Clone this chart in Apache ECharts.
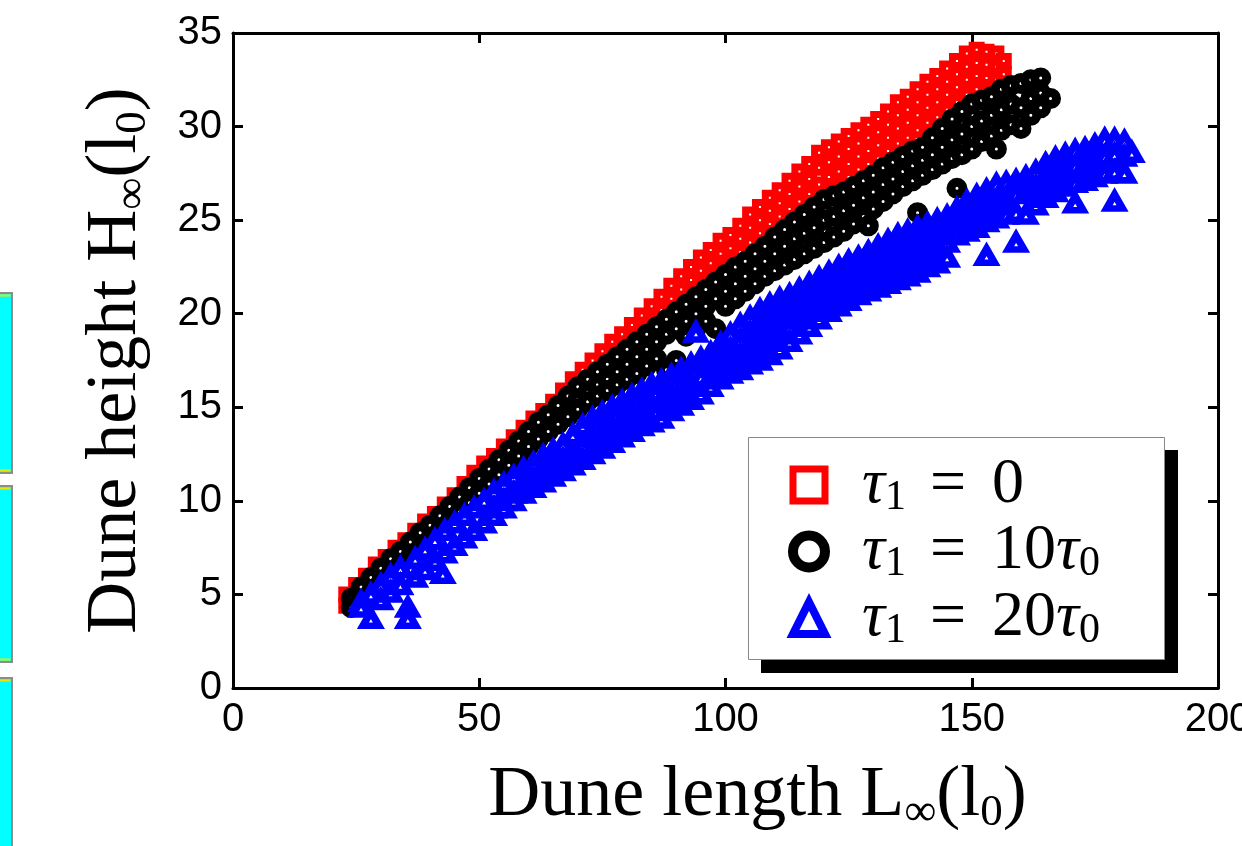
<!DOCTYPE html>
<html>
<head>
<meta charset="utf-8">
<script src="https://cdn.jsdelivr.net/npm/echarts@6/dist/echarts.min.js"></script>
<style>
html,body{margin:0;padding:0;background:#fff;}
#chart{width:1242px;height:846px;}
</style>
</head>
<body>
<div id="chart"></div>
<script>
// ---- data (L, [H values]) ----
const seriesNames = ['τ1 = 0', 'τ1 = 10τ0', 'τ1 = 20τ0'];
const xTicks = [0, 50, 100, 150, 200];
const yTicks = [0, 5, 10, 15, 20, 25, 30, 35];

const redCols = [
[23,[5.0,4.4]],[25,[5.5,4.8]],[27,[6.0,5.3]],[29,[6.6,5.8]],[31,[7.0,6.3]],[33,[7.5,6.8]],
[35,[7.9,7.2]],[37,[8.4,7.6]],[39,[8.9,8.2]],[41,[9.3,8.6]],[43,[9.8,9.1]],[45,[10.3,9.6]],
[47,[10.9,10.2]],[49,[11.5,10.8]],[51,[12.0,11.3]],[53,[12.4,11.8]],[55,[12.9,12.2]],
[57,[13.4,12.7]],[59,[13.9,13.2]],[61,[14.4,13.7]],[63,[14.8,14.1]],[65,[15.3,14.6]],
[67,[15.9,15.2,14.7]],[69,[16.5,15.8,15.1]],[71,[17.0,16.3,15.6]],[73,[17.5,16.8,16.1]],
[75,[18.0,17.3,16.5]],[77,[18.5,17.8,17.0]],[79,[18.9,18.2,17.4]],[81,[19.4,18.7,17.9]],
[83,[19.9,19.2,18.4]],[85,[20.4,19.7,18.9]],[87,[20.9,20.2,19.4]],
[89,[21.5,20.8,20.1,19.5]],[91,[22.0,21.3,20.6,20.0]],[93,[22.5,21.8,21.1,20.5]],
[95,[23.0,22.3,21.6,21.0]],[97,[23.4,22.7,22.0,21.4]],[99,[23.9,23.2,22.5,21.8]],
[101,[24.2,23.5,22.8,22.2]],[103,[24.7,24.0,23.3,22.6]],[105,[25.3,24.6,23.8,23.1]],
[107,[25.7,25.0,24.3,23.6]],[109,[26.2,25.5,24.8,24.0]],[111,[26.6,25.9,25.2,24.4]],
[113,[27.1,26.4,25.6,24.9]],[115,[27.6,26.8,26.0,25.3]],[117,[28.0,27.2,26.4,25.7]],
[119,[28.6,27.8,26.9,26.1]],[121,[28.9,28.1,27.3,26.5]],[123,[29.2,28.4,27.6,26.9]],
[125,[29.5,28.8,28.0,27.3]],[127,[29.8,29.1,28.4,27.7]],[129,[30.1,29.4,28.7,28.0]],
[131,[30.4,29.7,29.0,28.3]],[133,[30.8,30.1,29.4,28.7]],[135,[31.3,30.6,29.9,29.1]],
[137,[31.6,30.9,30.2,29.4]],[139,[32.0,31.3,30.6,29.8]],[141,[32.4,31.7,31.0,30.2]],
[143,[32.7,32.0,31.3,30.5]],[145,[33.1,32.4,31.7,30.9]],[147,[33.5,32.8,32.1,31.3]],
[149,[33.9,33.2,32.5,31.7]],[151,[34.1,33.4,32.7,32.0]],[153,[34.0,33.3,32.6,31.9]],
[155,[33.9,33.2,32.5,31.8]],[156.5,[33.5,32.8,32.1,31.4]]
];

const blackCols = [
[24,[4.8,4.3]],[26,[5.4,4.7]],[28,[5.9,5.1]],[30,[6.4,5.6]],[32,[6.9,6.1]],[34,[7.3,6.6]],
[36,[7.8,7.0]],[38,[8.3,7.4]],[40,[8.7,7.9]],[42,[9.2,8.4]],[44,[9.7,8.9]],[46,[10.2,9.4]],
[48,[10.7,9.9]],[50,[11.2,10.4]],[52,[11.7,10.9]],[54,[12.2,11.4]],[56,[12.7,11.9]],
[58,[13.2,12.4]],[60,[13.7,12.9]],[62,[14.2,13.3]],[64,[14.6,13.7]],[66,[15.1,14.1]],
[68,[15.6,14.5]],[70,[16.1,15.4,14.9]],[72,[16.5,15.8,15.3]],[74,[16.9,16.2,15.6]],
[76,[17.3,16.5,15.9]],[78,[17.7,16.9,16.2]],[80,[18.1,17.3,16.5]],[82,[18.5,17.7,16.8]],
[84,[18.9,18.1,17.2]],[86,[19.3,18.5,17.6]],[88,[19.7,18.9,17.0]],[90,[20.1,19.2,17.5]],
[92,[20.5,19.6,18.8]],[94,[20.9,20.0,19.2]],[96,[21.3,20.4,19.6]],[98,[21.7,20.8,19.2]],
[100,[22.1,21.2,20.4]],[102,[22.5,21.6,20.8]],[104,[22.8,22.0,21.2]],[106,[23.2,22.4,21.6]],
[108,[23.6,22.8,22.0]],[110,[24.1,23.2,22.3]],[112,[24.5,23.6,22.6]],[114,[24.9,24.0,22.9]],
[116,[25.3,24.3,23.2]],[118,[25.7,24.6,23.5]],[120,[26.1,25.0,23.8]],[122,[26.3,25.2,24.1]],
[124,[26.5,25.5,24.4]],[126,[26.8,25.8,24.8]],[128,[27.1,26.2,25.2]],[129,[24.7]],
[130,[27.4,26.5,25.6]],[132,[27.8,26.9,26.0]],[134,[28.1,27.2,26.4]],[136,[28.4,27.6,26.8]],
[138,[28.7,27.9,27.1]],[139,[25.4]],[140,[28.9,28.2,27.4]],[142,[29.4,28.5,27.7]],
[144,[29.9,28.9,28.0]],[146,[30.4,29.3,28.3]],[147,[26.7]],[148,[30.8,29.6,28.5]],
[150,[31.2,30.0,28.8]],[152,[31.4,30.3,29.2]],[154,[31.6,30.6,29.5]],[155,[28.8]],
[156,[32.0,30.9,29.8]],[158,[32.2,31.2,30.1]],[160,[32.3,31.0,29.9]],[162,[32.5,31.5,30.6]],
[164,[32.6,31.8,31.0]],[166,[31.5]]
];

const blueCols = [
[26,[4.6,4.3]],[28,[5.0,3.7]],[30,[5.5,4.7]],[32,[6.0,5.1]],[34,[6.4,5.5]],[35.5,[4.3,3.7]],
[37,[6.9,5.9]],[39,[7.4,6.3]],[41,[7.9,6.8]],[42.6,[6.1]],[43,[8.4,7.2]],[45,[8.8,7.6]],
[47,[9.2,8.0]],[49,[9.6,8.4]],[51,[10.0,8.8]],[53,[10.5,9.6,9.2]],[55,[10.9,10.0,9.6]],
[57,[11.3,10.4,10.0]],[59,[11.7,10.8,10.4]],[61,[12.0,11.2,10.7]],[63,[12.4,11.5,11.0]],
[65,[12.7,11.9,11.3]],[67,[13.0,12.2,11.6]],[69,[13.5,12.6,11.9]],[71,[14.0,13.0,12.2]],
[73,[14.4,13.4,12.5]],[75,[14.7,13.7,12.8]],[77,[15.0,14.0,13.1]],[79,[15.3,14.3,13.4]],
[81,[15.6,14.6,13.7]],[83,[15.9,14.9,14.0]],[85,[16.2,15.2,14.2]],[87,[16.4,15.4,14.4]],
[89,[16.7,15.7,14.8]],[91,[17.0,16.0,15.1]],[93,[17.3,16.3,15.4]],[94,[19.0]],
[95,[17.6,16.6,15.7]],[97,[17.9,17.2,16.6,16.1]],[99,[18.4,17.7,17.0,16.5]],
[101,[18.9,18.1,17.4,16.8]],[103,[19.4,18.6,17.8,17.0]],[105,[19.8,19.0,18.1,17.3]],
[107,[20.2,19.3,18.4,17.5]],[109,[20.5,19.6,18.7,17.8]],[111,[20.8,19.9,19.0,18.1]],
[113,[21.0,20.2,19.3,18.5]],[115,[21.3,20.5,19.7,18.9]],[117,[21.6,20.8,20.0,19.3]],
[119,[21.9,21.1,20.4,19.7]],[121,[22.2,21.4,20.7,20.1]],[123,[22.5,21.7,21.0,20.4]],
[125,[22.8,22.0,21.3,20.7]],[127,[23.0,22.3,21.6,21.0]],[129,[23.3,22.5,21.8,21.2]],
[131,[23.6,22.8,22.1,21.4]],[133,[23.9,23.1,22.3,21.6]],[135,[24.2,23.4,22.6,21.8]],
[137,[24.4,23.6,22.8,22.0]],[139,[24.6,23.8,23.0,22.2]],[141,[24.8,24.0,23.2,22.5]],
[143,[25.0,24.3,23.5,22.7]],[145,[25.2,24.5,23.8,23.0]],[147,[25.6,24.9,24.2]],
[149,[26.0,25.2,24.4]],[151,[26.3,25.5,24.6]],[153,[26.6,25.8,24.9,23.1]],
[155,[26.9,26.0,25.1]],[157,[27.0,26.2,25.3]],[159,[27.1,26.4,25.4,23.8]],
[161,[27.3,26.5,25.3]],[163,[27.6,26.8,25.8]],[165,[28.0,27.1,26.2]],[167,[28.3,27.4,26.5]],
[169,[28.5,27.7,26.8]],[171,[28.7,27.9,27.0,25.9]],[173,[28.8,28.0,27.1]],
[175,[29.0,28.2,27.3]],[177,[29.3,28.4,27.5]],[179,[29.3,28.5,27.6,26.0]],
[181,[29.2,28.4,27.5]],[182.5,[28.6]]
];

function flatten(cols) {
  const out = [];
  cols.forEach(function (c) { c[1].forEach(function (h) { out.push([c[0], h]); }); });
  return out;
}

const SERIF = '"Liberation Serif", "DejaVu Serif", serif';
const SANS = '"Liberation Sans", Arial, sans-serif';

const legendRich = {};
legendRich[seriesNames[0]] = '{t|τ}{s|1}{e|=}{m|0}';
legendRich[seriesNames[1]] = '{t|τ}{s|1}{e|=}{m|10}{u|τ}{s|0}';
legendRich[seriesNames[2]] = '{t|τ}{s|1}{e|=}{m|20}{u|τ}{s|0}';

const chart = echarts.init(document.getElementById('chart'), null, {renderer: 'canvas'});

const axisLineStyle = {color: '#000', width: 3};
const titleRich = {
  a: {fontFamily: SERIF, fontSize: 72, lineHeight: 80, color: '#000'},
  s: {fontFamily: SERIF, fontSize: 45, lineHeight: 40, verticalAlign: 'bottom', color: '#000'}
};

const option = {
  animation: false,
  backgroundColor: '#fff',
  grid: {left: 233, right: 24, top: 33, bottom: 158, containLabel: false, outerBoundsMode: 'none'},
  xAxis: [{
    type: 'value', min: xTicks[0], max: xTicks[xTicks.length - 1], interval: 50, position: 'bottom',
    axisLine: {show: true, onZero: false, lineStyle: axisLineStyle},
    axisTick: {show: true, inside: true, length: 10, lineStyle: axisLineStyle},
    axisLabel: {fontSize: 40, fontFamily: SANS, color: '#000', margin: 12, hideOverlap: false},
    splitLine: {show: false},
    name: '{a|Dune length L}{s|∞}{a|(l}{s|0}{a|)}',
    nameLocation: 'middle', nameGap: 68,
    nameTextStyle: {rich: titleRich, padding: [0, 0, 0, 64]}
  }, {
    type: 'value', min: xTicks[0], max: xTicks[xTicks.length - 1], interval: 50, position: 'top',
    axisLine: {show: true, onZero: false, lineStyle: axisLineStyle},
    axisTick: {show: true, inside: true, length: 10, lineStyle: axisLineStyle},
    axisLabel: {show: false}, splitLine: {show: false}
  }],
  yAxis: [{
    type: 'value', min: yTicks[0], max: yTicks[yTicks.length - 1], interval: 5, position: 'left',
    axisLine: {show: true, onZero: false, lineStyle: axisLineStyle},
    axisTick: {show: true, inside: true, length: 10, lineStyle: axisLineStyle},
    axisLabel: {fontSize: 40, fontFamily: SANS, color: '#000', margin: 11},
    splitLine: {show: false},
    name: '{a|Dune height H}{s|∞}{a|(l}{s|0}{a|)}',
    nameLocation: 'middle', nameGap: 77, nameRotate: 90,
    nameTextStyle: {rich: titleRich}
  }, {
    type: 'value', min: yTicks[0], max: yTicks[yTicks.length - 1], interval: 5, position: 'right',
    axisLine: {show: true, onZero: false, lineStyle: axisLineStyle},
    axisTick: {show: true, inside: true, length: 10, lineStyle: axisLineStyle},
    axisLabel: {show: false}, splitLine: {show: false}
  }],
  legend: {
    show: true, orient: 'vertical', left: 748, top: 437, z: 12,
    selectedMode: false,
    itemWidth: 32, itemHeight: 32, itemGap: 1,
    padding: [16, 50, 4, 40],
    backgroundColor: 'transparent', borderWidth: 0,
    data: [
      {name: seriesNames[0], icon: 'rect', itemStyle: {color: '#fff', borderColor: '#ff0000', borderWidth: 7}},
      {name: seriesNames[1], icon: 'circle', itemStyle: {color: '#fff', borderColor: '#000', borderWidth: 10}},
      {name: seriesNames[2], icon: 'triangle', itemStyle: {color: '#fff', borderColor: '#0000ff', borderWidth: 8}}
    ],
    formatter: function (name) { return legendRich[name]; },
    textStyle: {
      rich: {
        t: {fontFamily: SERIF, fontStyle: 'italic', fontSize: 64, lineHeight: 67, padding: [0, 0, 0, 32], color: '#000'},
        u: {fontFamily: SERIF, fontStyle: 'italic', fontSize: 64, lineHeight: 67, color: '#000'},
        e: {fontFamily: SERIF, fontSize: 64, lineHeight: 67, padding: [0, 26, 0, 24], color: '#000'},
        m: {fontFamily: SERIF, fontSize: 64, lineHeight: 67, color: '#000'},
        s: {fontFamily: SERIF, fontSize: 42, lineHeight: 37, verticalAlign: 'bottom', color: '#000'}
      }
    }
  },
  graphic: [
    {type: 'rect', z: 10, shape: {x: 761, y: 450, width: 417, height: 223}, style: {fill: '#000'}},
    {type: 'rect', z: 11, shape: {x: 748.5, y: 437.5, width: 416, height: 222}, style: {fill: '#fff', stroke: '#888', lineWidth: 1}},
    {type: 'rect', shape: {x: -4, y: 293, width: 16, height: 180}, style: {fill: '#00ffff', stroke: '#8c8c8c', lineWidth: 2}},
    {type: 'line', shape: {x1: 0, y1: 295.5, x2: 10.5, y2: 295.5}, style: {stroke: '#e6e600', lineWidth: 2}},
    {type: 'line', shape: {x1: 0, y1: 470.5, x2: 10.5, y2: 470.5}, style: {stroke: '#e6e600', lineWidth: 2}},
    {type: 'rect', shape: {x: -4, y: 486, width: 16, height: 176}, style: {fill: '#00ffff', stroke: '#8c8c8c', lineWidth: 2}},
    {type: 'line', shape: {x1: 0, y1: 488.5, x2: 10.5, y2: 488.5}, style: {stroke: '#e6e600', lineWidth: 2}},
    {type: 'line', shape: {x1: 0, y1: 659.5, x2: 10.5, y2: 659.5}, style: {stroke: '#e6e600', lineWidth: 2}},
    {type: 'rect', shape: {x: -4, y: 678, width: 16, height: 180}, style: {fill: '#00ffff', stroke: '#8c8c8c', lineWidth: 2}},
    {type: 'line', shape: {x1: 0, y1: 680.5, x2: 10.5, y2: 680.5}, style: {stroke: '#e6e600', lineWidth: 2}}
  ],
  series: [{
    type: 'scatter', name: seriesNames[0], data: flatten(redCols),
    symbol: 'rect', symbolSize: 9, silent: true,
    itemStyle: {color: '#fff', borderColor: '#ff0000', borderWidth: 7, opacity: 1},
    emphasis: {disabled: true}
  }, {
    type: 'scatter', name: seriesNames[1], data: flatten(blackCols),
    symbol: 'circle', symbolSize: 12, silent: true,
    itemStyle: {color: '#fff', borderColor: '#000', borderWidth: 9, opacity: 1},
    emphasis: {disabled: true}
  }, {
    type: 'scatter', name: seriesNames[2], data: flatten(blueCols),
    symbol: 'triangle', symbolSize: [16, 14], silent: true,
    itemStyle: {color: '#fff', borderColor: '#0000ff', borderWidth: 7, opacity: 1},
    emphasis: {disabled: true}
  }]
};
chart.setOption(option);
</script>
</body>
</html>
